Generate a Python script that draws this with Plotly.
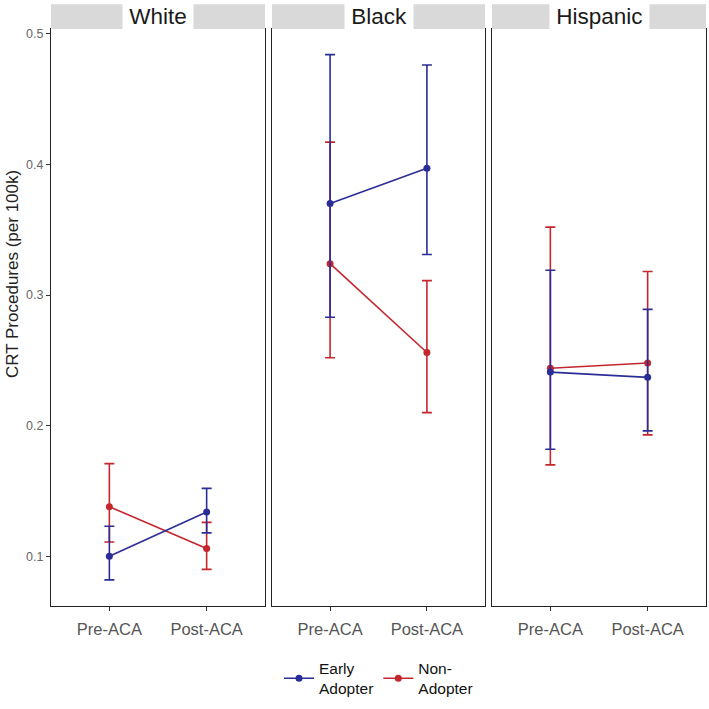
import plotly.graph_objects as go

# data
races = ["White", "Black", "Hispanic"]
periods = ["Pre-ACA", "Post-ACA"]

early_mean = [[0.100, 0.134], [0.370, 0.397], [0.241, 0.237]]
early_low = [[0.082, 0.118], [0.283, 0.331], [0.182, 0.196]]
early_high = [[0.123, 0.152], [0.484, 0.476], [0.319, 0.289]]

non_mean = [[0.138, 0.106], [0.324, 0.256], [0.244, 0.248]]
non_low = [[0.111, 0.090], [0.252, 0.210], [0.170, 0.193]]
non_high = [[0.171, 0.126], [0.417, 0.311], [0.352, 0.318]]

y_ticks = [0.1, 0.2, 0.3, 0.4, 0.5]

BLUE = "#2B2D96"
RED = "#C4262E"
FONT = "Liberation Sans, Arial, sans-serif"

W, H = 709, 709
L, R, T, B = 51, 3, 29, 96
pw = W - L - R
ph = H - T - B
# panel pixel spans (left, right)
panels = [(51, 265), (272, 485), (492, 706)]
domains = [((a - L) / pw, (b - L) / pw) for a, b in panels]

fig = go.Figure()

series = [
    ("Non-\nAdopter", RED, non_mean, non_low, non_high, 2),
    ("Early\nAdopter", BLUE, early_mean, early_low, early_high, 1),
]

for i, race in enumerate(races):
    xa = "x" if i == 0 else f"x{i + 1}"
    ya = "y" if i == 0 else f"y{i + 1}"
    for name, color, mean, low, high, rank in series:
        m = mean[i]
        plus = [h - v for h, v in zip(high[i], m)]
        minus = [v - lo for v, lo in zip(m, low[i])]
        fig.add_trace(go.Scatter(
            x=periods, y=m,
            mode="lines+markers",
            line=dict(color=color, width=1.6),
            marker=dict(color=color, size=7),
            error_y=dict(type="data", array=plus, arrayminus=minus,
                         color=color, thickness=1.6, width=5),
            name=name.replace("\n", "<br>"),
            legendgroup=name,
            legendrank=rank,
            showlegend=(i == 0),
            xaxis=xa, yaxis=ya,
        ))

axis_common = dict(
    showline=True, mirror=True, linecolor="#222", linewidth=1.3,
    showgrid=False, zeroline=False,
    ticks="outside", ticklen=4, tickcolor="#333", tickwidth=1,
)

layout = dict()
for i, race in enumerate(races):
    sx = "xaxis" if i == 0 else f"xaxis{i + 1}"
    sy = "yaxis" if i == 0 else f"yaxis{i + 1}"
    layout[sx] = dict(
        axis_common,
        domain=list(domains[i]), anchor="y" if i == 0 else f"y{i + 1}",
        type="category", categoryorder="array", categoryarray=periods,
        range=[-0.6, 1.6],
        ticklabelstandoff=4,
        tickfont=dict(size=16.5, color="#555", family=FONT),
    )
    layout[sy] = dict(
        axis_common,
        domain=[0, 1], anchor="x" if i == 0 else f"x{i + 1}",
        range=[0.062, 0.5036],
        tickvals=y_ticks, tickformat=".1f",
        showticklabels=(i == 0),
        ticks="outside" if i == 0 else "",
        tickfont=dict(size=12.5, color="#666", family=FONT),
    )
    if i > 0:
        layout[sy]["matches"] = "y"

fig.update_layout(**layout)

strip_top = 1 + 25 / ph
shapes = []
annotations = []
for i, race in enumerate(races):
    x0, x1 = domains[i]
    shapes.append(dict(type="rect", xref="paper", yref="paper",
                       x0=x0, x1=x1, y0=1, y1=strip_top,
                       fillcolor="#D9D9D9", line=dict(width=0), layer="above"))
    annotations.append(dict(
        text="\u00a0" + race + "\u00a0", xref="paper", yref="paper",
        x=(x0 + x1) / 2, y=(1 + strip_top) / 2,
        xanchor="center", yanchor="middle", showarrow=False,
        font=dict(size=22.5, color="#1a1a1a", family=FONT),
        bgcolor="white", borderpad=0,
    ))

annotations.append(dict(
    text="CRT Procedures (per 100k)", xref="paper", yref="paper",
    x=(12 - L) / pw, y=(613 - 277) / ph, xanchor="center", yanchor="middle",
    textangle=-90, showarrow=False,
    font=dict(size=17, color="#222", family=FONT),
))

fig.update_layout(
    width=W, height=H,
    margin=dict(l=L, r=R, t=T, b=B),
    paper_bgcolor="white", plot_bgcolor="white",
    shapes=shapes, annotations=annotations,
    font=dict(family=FONT),
    legend=dict(
        orientation="h", x=0.5, xanchor="center",
        y=-0.079, yanchor="top",
        font=dict(size=15.5, color="#111", family=FONT),
        itemwidth=30, valign="middle",
    ),
)

# drop the default body margin and scrollbars so the figure fills the window
page_css = (
    "document.documentElement.style.overflow='hidden';"
    "document.body.style.margin='0';"
    "document.body.style.overflow='hidden';"
)
fig.write_html("out.html", post_script=page_css,
               config={"displayModeBar": False})
